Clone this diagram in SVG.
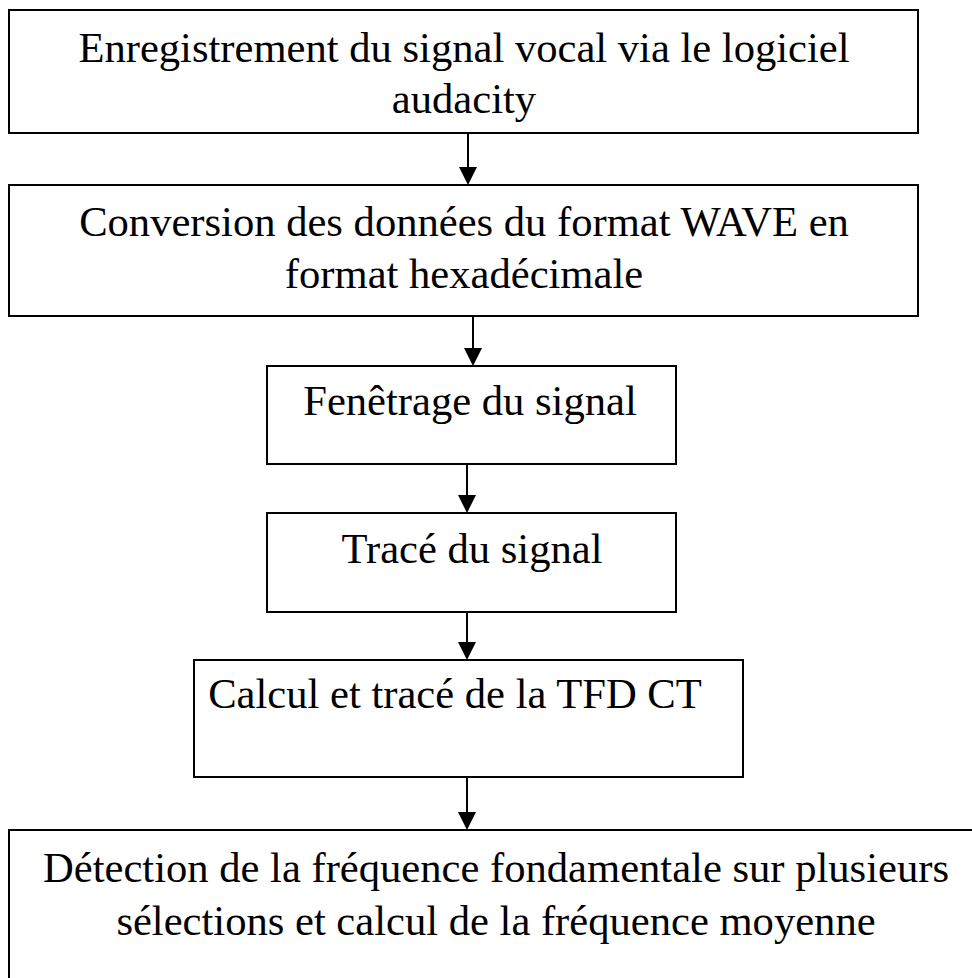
<svg xmlns="http://www.w3.org/2000/svg" width="972" height="978" viewBox="0 0 972 978">
<style>
.box{fill:#fff;stroke:#000;stroke-width:2}
.t{font-family:"Liberation Serif","Times New Roman",serif;font-size:42.6px;fill:#000;text-anchor:middle}
.ln{stroke:#000;stroke-width:2}
.ah{fill:#000}
</style>
<rect width="972" height="978" fill="#fff"/>
<g id="connectors">
<line class="ln" x1="468" y1="133" x2="468" y2="170"/>
<path class="ah" d="M459,167 L477,167 L468,185 Z"/>
<line class="ln" x1="473" y1="316" x2="473" y2="350"/>
<path class="ah" d="M464,348 L482,348 L473,366 Z"/>
<line class="ln" x1="467" y1="464" x2="467" y2="497"/>
<path class="ah" d="M458,495 L476,495 L467,513 Z"/>
<line class="ln" x1="467" y1="612" x2="467" y2="644"/>
<path class="ah" d="M458,642 L476,642 L467,660 Z"/>
<line class="ln" x1="467" y1="777" x2="467" y2="814"/>
<path class="ah" d="M458,812 L476,812 L467,830 Z"/>
</g>
<g id="n1">
<rect class="box" x="9" y="10" width="909" height="123"/>
<text class="t" x="464" y="62">Enregistrement du signal vocal via le logiciel</text>
<text class="t" x="464" y="113">audacity</text>
</g>
<g id="n2">
<rect class="box" x="9" y="185" width="909" height="131"/>
<text class="t" x="464" y="236">Conversion des données du format WAVE en</text>
<text class="t" x="464" y="288">format hexadécimale</text>
</g>
<g id="n3">
<rect class="box" x="267" y="366" width="409" height="98"/>
<text class="t" x="470" y="415">Fenêtrage du signal</text>
</g>
<g id="n4">
<rect class="box" x="267" y="513" width="409" height="99"/>
<text class="t" x="472" y="563">Tracé du signal</text>
</g>
<g id="n5">
<rect class="box" x="194" y="660" width="549" height="117"/>
<text class="t" x="455" y="708">Calcul et tracé de la TFD CT</text>
</g>
<g id="n6">
<rect class="box" x="9" y="830" width="975" height="160"/>
<text class="t" x="496" y="882">Détection de la fréquence fondamentale sur plusieurs</text>
<text class="t" x="496" y="935">sélections et calcul de la fréquence moyenne</text>
</g>
</svg>
